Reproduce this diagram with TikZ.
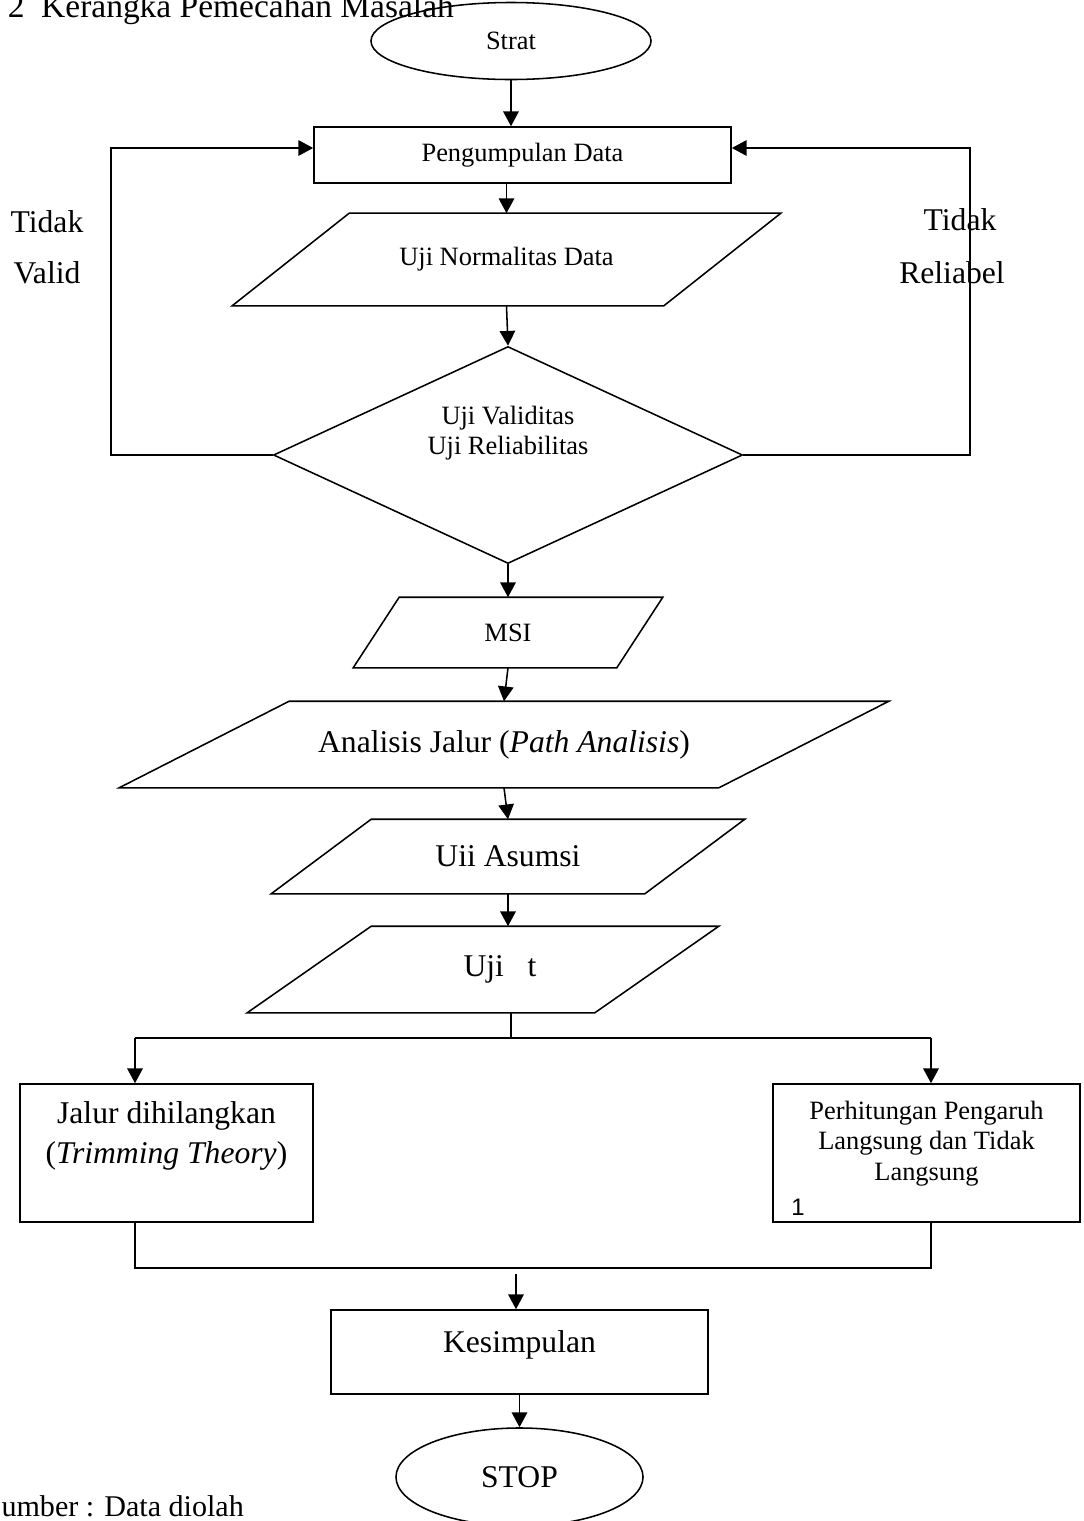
\documentclass[tikz,border=0pt]{standalone}
\usepackage{fontspec}
\setmainfont{Liberation Serif}
\newfontfamily\numfont{Liberation Sans}
\usetikzlibrary{arrows.meta,shapes.geometric,calc}
\newcommand{\smalltxt}{\fontsize{18.8}{21.5}\selectfont}
\newcommand{\bigtxt}{\fontsize{22.5}{29}\selectfont}
\newcommand{\slantbox}[3]{\draw ($(#1.north west)+(#2,0)$) -- ($(#1.north east)+(#2,0)$)
  -- ($(#1.south east)-(#3,0)$) -- ($(#1.south west)-(#3,0)$) -- cycle;}

\begin{document}
\begin{tikzpicture}[
  x=0.025cm,y=-0.025cm,
  line width=1.1pt,
  box/.style={draw,rectangle,align=center,inner sep=2pt},
  term/.style={draw,ellipse,inner sep=0pt},
  dec/.style={draw,diamond,aspect=2.16,align=center,inner sep=0pt,font=\smalltxt},
  para/.style={rectangle,align=center,inner sep=0pt},
  lbl/.style={align=center,inner sep=0pt,font=\bigtxt},
  arr/.style={-{Triangle[length=10.5pt,width=11pt]}}
]
\useasboundingbox (0,0) rectangle (1084,1521);

\node[anchor=base west,inner sep=0pt,font=\fontsize{23.8}{28}\selectfont] (title) at (7,17) {2\ \ Kerangka Pemecahan Masalah};

\node[term,minimum width=7cm,minimum height=1.925cm,font=\smalltxt] (strat) at (511,41) {Strat};
\node[box,minimum width=10.425cm,minimum height=1.4cm,font=\smalltxt] (data) at (522.5,155) {Pengumpulan Data};
\node[para,minimum width=10.75cm,minimum height=2.275cm,font=\smalltxt] (norm) at (506.5,259.5) {Uji Normalitas Data};
\slantbox{norm}{58.5}{58.5}
\node[dec,minimum width=11.725cm,minimum height=5.425cm] (dia) at (508,455) {Uji Validitas\\Uji Reliabilitas\\[14pt]~};
\node[para,minimum width=6.55cm,minimum height=1.725cm,font=\smalltxt] (msi) at (508,632.5) {MSI};
\slantbox{msi}{23}{23}
\node[para,minimum width=14.95cm,minimum height=2.125cm,font=\bigtxt] (anal) at (504,744.5) {Analisis Jalur (\textit{Path Analisis})};
\slantbox{anal}{85}{85}
\node[para,minimum width=9.3cm,minimum height=1.825cm,font=\bigtxt] (asum) at (508,856.5) {Uii Asumsi};
\slantbox{asum}{50}{50}
\node[para,minimum width=8.65cm,minimum height=2.125cm,font=\bigtxt] (ujit) at (500,969.5) {Uji\ \ \ t};
\slantbox{ujit}{45}{79}

\node[box,minimum width=7.325cm,minimum height=3.45cm,font=\bigtxt] (trim) at (166.5,1153) {Jalur dihilangkan\\(\textit{Trimming Theory})\\~};
\node[box,minimum width=7.675cm,minimum height=3.45cm,font=\smalltxt] (perh) at (926.5,1153) {Perhitungan Pengaruh\\Langsung dan Tidak\\Langsung\\[-4pt]~};
\node[inner sep=0pt,font=\numfont\fontsize{17}{20}\selectfont] (num) at (798,1207) {1};
\node[box,minimum width=9.425cm,minimum height=2.1cm,font=\bigtxt] (kes) at (519.5,1352) {Kesimpulan\\[-14pt]~};
\node[term,minimum width=6.175cm,minimum height=2.45cm,font=\bigtxt] (stop) at (519.5,1477) {STOP};

\node[lbl] (tdk1) at (47,222) {Tidak};
\node[lbl] (vld) at (47,273) {Valid};
\node[lbl] (tdk2) at (960,220) {Tidak};
\node[lbl] (rel) at (952,273) {Reliabel};

\node[anchor=base west,inner sep=0pt,font=\fontsize{21.4}{25}\selectfont] (src) at (-16,1516) {Sumber : Data diolah};

\coordinate (lft) at (111,148);
\coordinate (rgt) at (970,148);
\coordinate (split) at (511,1038);
\coordinate (lbr) at (135,1038);
\coordinate (rbr) at (931,1038);
\coordinate (join) at (516,1268);
\coordinate (joinb) at (516,1274);

\draw[arr] (strat.south) -- (strat.south |- data.north);
\draw[arr] (norm.north |- data.south) -- (norm.north);
\draw[arr] (norm.south) -- (dia.north);
\draw[arr] (dia.west) -| (lft) -- (lft -| data.west);
\draw[arr] (dia.east) -| (rgt) -- (rgt -| data.east);
\draw[arr] (dia.south) -- (msi.north);
\draw[arr] (msi.south) -- (anal.north);
\draw[arr] (anal.south) -- (asum.north);
\draw[arr] (asum.south) -- (asum.south |- ujit.north);
\draw (split |- ujit.south) -- (split);
\draw (lbr) -- (rbr);
\draw[arr] (lbr) -- (lbr |- trim.north);
\draw[arr] (rbr) -- (rbr |- perh.north);
\draw (lbr |- trim.south) -- (lbr |- join) -- (rbr |- join) -- (rbr |- perh.south);
\draw[arr] (joinb) -- (joinb |- kes.north);
\draw[arr] (kes.south) -- (stop.north);
\end{tikzpicture}
\end{document}
